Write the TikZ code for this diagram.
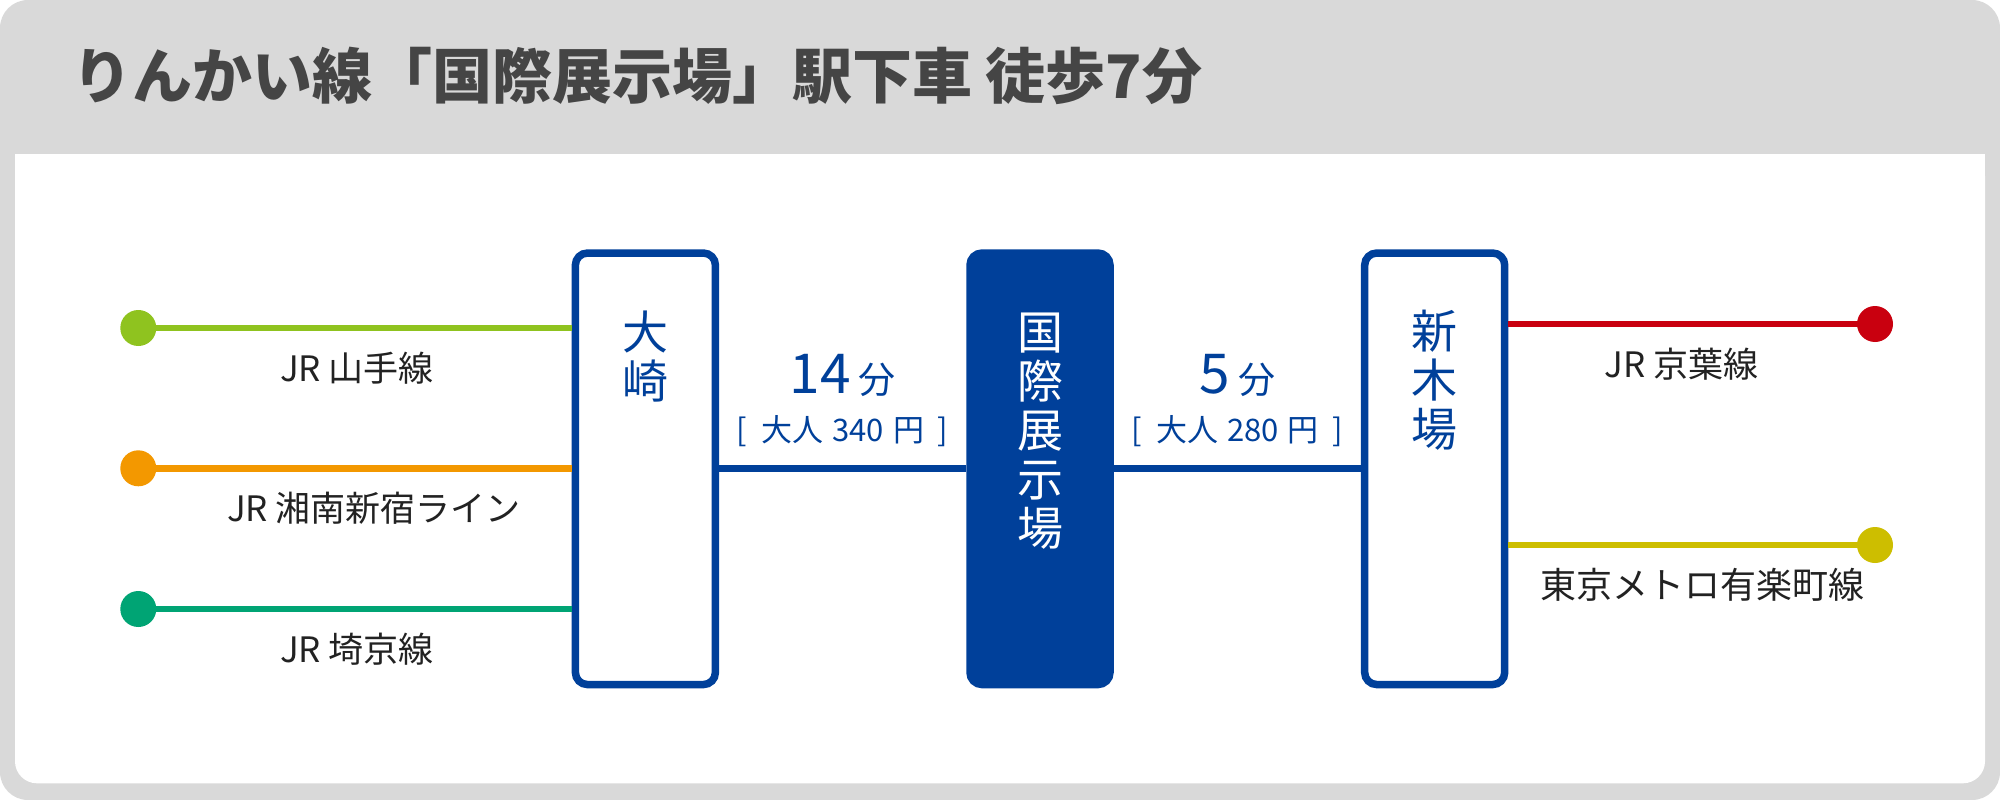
\documentclass[tikz,border=0pt]{standalone}
\usepackage{fontspec}
\setmainfont{Noto Sans CJK JP}
\usetikzlibrary{positioning}
\definecolor{rinkai}{HTML}{00409A}
\definecolor{yamanote}{HTML}{8FC31F}
\definecolor{shonan}{HTML}{F39800}
\definecolor{saikyo}{HTML}{00A474}
\definecolor{keiyo}{HTML}{C9000F}
\definecolor{yurakucho}{HTML}{CDBE00}
\definecolor{framegray}{HTML}{D9D9D9}
\definecolor{heading}{HTML}{454545}
\definecolor{ink}{HTML}{222222}

\begin{document}
\begin{tikzpicture}[x=1pt,y=-1pt,
  stabox/.style={draw=rinkai,line width=7.5pt,rounded corners=12pt,fill=white,minimum width=140pt,minimum height=431.5pt,inner sep=0pt},
  hubbox/.style={stabox,fill=rinkai},
  staname/.style={align=center,inner sep=0pt,font=\fontsize{46}{49}\selectfont},
  dot/.style={circle,fill=#1,minimum size=36pt,inner sep=0pt},
  rail/.style={draw=#1,line width=6.5pt},
  link/.style={draw=rinkai,line width=7pt},
  linename/.style={font=\fontsize{35}{35}\selectfont,text=ink,inner sep=0pt,yshift=-40pt},
  trip/.style={anchor=base,text=rinkai,inner sep=0pt,yshift=75.5pt},
  fare/.style={anchor=base,text=rinkai,inner sep=0pt,yshift=27pt,font=\fontsize{31}{31}\selectfont}]
\useasboundingbox (0,0) rectangle (2000,800);
\fill[framegray,rounded corners=28pt] (0,0) rectangle (2000,800);
\fill[white,rounded corners=22pt] (15,154) rectangle (1985,783.3);
\fill[white] (15,154) rectangle (1985,200);
\node[anchor=west,inner sep=0pt,text=heading,font=\bfseries\fontsize{60}{60}\selectfont] (title) at (72,76) {りんかい線「国際展示場」駅下車 徒歩7分};

\node[stabox] (osaki) at (645.4,468.8) {};
\node[hubbox] (hub) at (1040,468.8) {};
\node[stabox] (shinkiba) at (1434.7,468.8) {};
\node[staname,text=rinkai,below=61pt of osaki.north] (osakiname) {大\\崎};
\node[staname,text=white,below=63pt of hub.north] (hubname) {国\\際\\展\\示\\場};
\node[staname,text=rinkai,below=61pt of shinkiba.north] (shinkibaname) {新\\木\\場};

\node[dot=yamanote] (yamadot) at (138.3,328) {};
\node[dot=shonan] (shonandot) at (138.3,468.3) {};
\node[dot=saikyo] (saikyodot) at (138.3,609) {};
\node[dot=keiyo] (keiyodot) at (1875,324) {};
\node[dot=yurakucho] (yurakuchodot) at (1875,545) {};

\draw[rail=yamanote] (yamadot.center) -- (yamadot -| osaki.west) node[midway,linename,xshift=2pt]{JR 山手線};
\draw[rail=shonan] (shonandot.center) -- (shonandot -| osaki.west) node[midway,linename,xshift=19pt]{JR 湘南新宿ライン};
\draw[rail=saikyo] (saikyodot.center) -- (saikyodot -| osaki.west) node[midway,linename,xshift=2pt]{JR 埼京線};
\draw[rail=keiyo] (keiyodot -| shinkiba.east) -- (keiyodot.center) node[midway,linename,xshift=-10pt]{JR 京葉線};
\draw[rail=yurakucho] (yurakuchodot -| shinkiba.east) -- (yurakuchodot.center) node[midway,linename,xshift=11pt,font=\fontsize{36}{36}\selectfont]{東京メトロ有楽町線};

\draw[link] (osaki) -- (hub)
  node[midway,trip]{{\fontsize{55}{55}\selectfont 14}\hspace{8pt}{\fontsize{37}{37}\selectfont 分}}
  node[midway,fare]{[\hspace{14pt}大人\hspace{9pt}340\hspace{9pt}円\hspace{14pt}]};
\draw[link] (hub) -- (shinkiba)
  node[midway,trip]{{\fontsize{55}{55}\selectfont 5}\hspace{8pt}{\fontsize{37}{37}\selectfont 分}}
  node[midway,fare]{[\hspace{14pt}大人\hspace{9pt}280\hspace{9pt}円\hspace{14pt}]};
\end{tikzpicture}
\end{document}
